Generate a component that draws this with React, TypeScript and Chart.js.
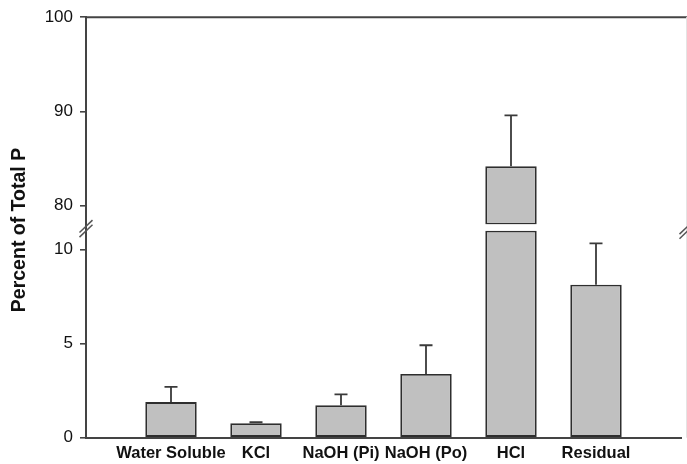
import React, { useEffect, useRef } from 'react';
import { Chart, registerables } from 'chart.js';

Chart.register(...registerables);

// ---- data ----
const categories = ['Water Soluble', 'KCl', 'NaOH (Pi)', 'NaOH (Po)', 'HCl', 'Residual'];
const means = [1.89, 0.77, 1.72, 3.38, 84.18, 8.13];
const errors = [0.81, 0.05, 0.58, 1.53, 5.4, 2.19];
const lowerTicks = [0, 5, 10];
const upperTicks = [80, 90, 100];
const lowerMin = 0;
const lowerMax = 11.32; // includes the small gap above the break
const lowerBarCap = 11; // where broken bars stop in the lower panel
const upperMin = 78;
const upperMax = 100;
const yTitle = 'Percent of Total P';

const AXIS = '#444';
const TEXT = '#111';
const FONT = "'Liberation Sans', Arial, Helvetica, sans-serif";

const labels = ['', ...categories, ''];
const lowerData = [null, ...means.map((v) => (v > lowerBarCap ? [lowerMin, lowerBarCap] : v)), null];
const upperData = [null, ...means.map((v) => (v > upperMin ? [upperMin, v] : null)), null];

const extrasPlugin = {
  id: 'extras',
  afterDatasetsDraw(chart: any) {
    const ctx = chart.ctx;
    const x = chart.scales.x;
    const yB = chart.scales.yBot;
    const yT = chart.scales.yTop;
    ctx.save();
    ctx.strokeStyle = '#3a3a3a';
    ctx.lineWidth = 1.8;
    means.forEach((m, i) => {
      const sc = m > upperMin ? yT : yB;
      const px = x.getPixelForValue(i + 1);
      const y0 = sc.getPixelForValue(m);
      const y1 = sc.getPixelForValue(m + errors[i]);
      ctx.beginPath();
      ctx.moveTo(px, y0);
      ctx.lineTo(px, y1);
      ctx.moveTo(px - 6.5, y1);
      ctx.lineTo(px + 6.5, y1);
      ctx.stroke();
    });
    ctx.restore();
  },
  afterDraw(chart: any) {
    const ctx = chart.ctx;
    const { left, top, bottom } = chart.chartArea;
    const W = chart.width;
    const brk = chart.scales.yTop.bottom;
    ctx.save();
    ctx.strokeStyle = AXIS;
    ctx.lineWidth = 2;
    ctx.beginPath();
    ctx.moveTo(left - 0.9, top);
    ctx.lineTo(W, top);
    ctx.stroke();
    ctx.strokeStyle = '#e4e4e4';
    ctx.lineWidth = 1;
    ctx.beginPath();
    ctx.moveTo(W - 0.5, top);
    ctx.lineTo(W - 0.5, bottom);
    ctx.stroke();
    ctx.strokeStyle = '#555';
    ctx.lineWidth = 1.5;
    const mark = (cx: number, cy: number, hw: number) => {
      for (const d of [-2.3, 2.3]) {
        ctx.beginPath();
        ctx.moveTo(cx - hw, cy + d + hw * 0.95);
        ctx.lineTo(cx + hw, cy + d - hw * 0.95);
        ctx.stroke();
      }
    };
    mark(left, brk + 4, 6.5);
    mark(W - 3.5, brk + 8, 4);
    ctx.fillStyle = TEXT;
    ctx.font = `bold 19.5px ${FONT}`;
    ctx.textAlign = 'center';
    ctx.textBaseline = 'alphabetic';
    ctx.translate(25, 230);
    ctx.rotate(-Math.PI / 2);
    ctx.fillText(yTitle, 0, 0);
    ctx.restore();
  },
};

export default function App() {
  const ref = useRef<HTMLCanvasElement | null>(null);
  useEffect(() => {
    if (!ref.current) return;
    const yCommon = (ticks: number[]) => ({
      type: 'linear' as const,
      position: 'left' as const,
      stack: 'y',
      afterFit(s: any) {
        s.width = 86;
      },
      afterBuildTicks(s: any) {
        s.ticks = ticks.map((v) => ({ value: v }));
      },
      grid: {
        display: true,
        drawOnChartArea: false,
        drawTicks: true,
        tickLength: 6,
        color: AXIS,
        lineWidth: 1.6,
      },
      border: { display: true, color: AXIS, width: 2 },
      ticks: {
        padding: 7,
        color: TEXT,
        font: { size: 17, family: FONT },
      },
    });
    const barStyle = {
      backgroundColor: '#c0c0c0',
      borderColor: '#2e2e2e',
      borderWidth: 1.8,
      borderSkipped: false,
      grouped: false,
      barPercentage: 0.605,
      categoryPercentage: 1,
    };
    const chart = new Chart(ref.current, {
      type: 'bar',
      data: {
        labels,
        datasets: [
          { data: lowerData as any, yAxisID: 'yBot', ...barStyle },
          { data: upperData as any, yAxisID: 'yTop', ...barStyle },
        ],
      },
      options: {
        responsive: false,
        animation: false,
        devicePixelRatio: 1,
        layout: { padding: { left: 0, right: 0, top: 16, bottom: 0 } },
        plugins: { legend: { display: false }, tooltip: { enabled: false }, title: { display: false } },
        scales: {
          x: {
            type: 'category',
            offset: false,
            afterFit(s: any) {
              s.height = 26.3;
            },
            grid: { display: false, drawTicks: false },
            border: { display: true, color: AXIS, width: 2 },
            ticks: {
              autoSkip: false,
              maxRotation: 0,
              padding: 6,
              color: TEXT,
              font: { size: 16.5, weight: 'bold', family: FONT },
            },
          },
          yBot: { ...yCommon(lowerTicks), min: lowerMin, max: lowerMax, stackWeight: 213.7 },
          yTop: { ...yCommon(upperTicks), min: upperMin, max: upperMax, stackWeight: 208 },
        } as any,
      },
      plugins: [extrasPlugin],
    });
    return () => chart.destroy();
  }, []);
  return (
    <div style={{ position: 'fixed', left: 0, top: 0, width: 687, height: 464, background: '#fff' }}>
      <canvas ref={ref} width={687} height={464} style={{ display: 'block', width: 687, height: 464 }} />
    </div>
  );
}
